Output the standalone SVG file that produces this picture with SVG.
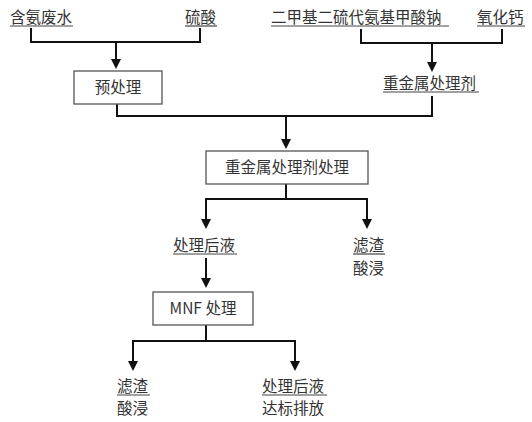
<svg xmlns="http://www.w3.org/2000/svg" width="532" height="422" viewBox="0 0 532 422">
<defs>
<marker id="arr" markerUnits="userSpaceOnUse" markerWidth="10" markerHeight="12" refX="5" refY="11" orient="auto-start-reverse" viewBox="0 0 10 12">
<path d="M0,0 L10,0 L5,11 Z" fill="#111" transform="rotate(-90 5 6) rotate(90 5 6)"/>
</marker>
<style>
.t{font-family:"Noto Sans CJK SC","Noto Sans",sans-serif;font-size:15.5px;fill:#333}
.c{text-anchor:middle}
.ln{stroke:#111;stroke-width:2;fill:none}
.u{stroke:#444;stroke-width:1.2}
.box{fill:#fff;stroke:#555;stroke-width:1.3}
</style>
</defs>
<rect width="532" height="422" fill="#fff"/>
<g id="connectors">
<path class="ln" d="M31,28 V42 H200 V28"/>
<path class="ln" d="M116,42 V60"/>
<path d="M111,59 L121,59 L116,69 Z" fill="#111"/>
<path class="ln" d="M361,29 V43 H502 V29"/>
<path class="ln" d="M432,43 V62"/>
<path d="M427,62 L437,62 L432,72 Z" fill="#111"/>
<path class="ln" d="M117,104 V116 H432 V96"/>
<path class="ln" d="M286,116 V140"/>
<path d="M281,139 L291,139 L286,149 Z" fill="#111"/>
<path class="ln" d="M286,184 V199 M206,220 V199 H367 V220"/>
<path d="M201,219 L211,219 L206,229 Z" fill="#111"/>
<path d="M362,219 L372,219 L367,229 Z" fill="#111"/>
<path class="ln" d="M206,258 V279"/>
<path d="M201,278 L211,278 L206,288 Z" fill="#111"/>
<path class="ln" d="M206,325 V341 M133,362 V341 H295 V362"/>
<path d="M128,361 L138,361 L133,371 Z" fill="#111"/>
<path d="M290,361 L300,361 L295,371 Z" fill="#111"/>
</g>
<g id="n-hanan">
<text class="t" x="10" y="23">含氨废水</text>
<line class="u" x1="10" y1="26" x2="73" y2="26"/>
</g>
<g id="n-liusuan">
<text class="t" x="185" y="23">硫酸</text>
<line class="u" x1="185" y1="26" x2="217" y2="26"/>
</g>
<g id="n-dtc">
<text class="t" x="271" y="23">二甲基二硫代氨基甲酸钠</text>
<line class="u" x1="271" y1="26" x2="449" y2="26"/>
</g>
<g id="n-cao">
<text class="t" x="477" y="23">氧化钙</text>
<line class="u" x1="477" y1="26" x2="525" y2="26"/>
</g>
<g id="n-pre">
<rect class="box" x="74" y="71" width="88" height="33"/>
<text class="t c" x="118" y="93">预处理</text>
</g>
<g id="n-agent">
<text class="t" x="383" y="89">重金属处理剂</text>
<line class="u" x1="383" y1="92" x2="479" y2="92"/>
</g>
<g id="n-hm">
<rect class="box" x="206" y="151" width="162" height="33"/>
<text class="t c" x="287" y="173">重金属处理剂处理</text>
</g>
<g id="n-liq1">
<text class="t" x="173" y="251">处理后液</text>
<line class="u" x1="173" y1="254" x2="237" y2="254"/>
</g>
<g id="n-res1">
<text class="t" x="353" y="251">滤渣</text>
<line class="u" x1="353" y1="254" x2="385" y2="254"/>
<text class="t" x="353" y="274">酸浸</text>
</g>
<g id="n-mnf">
<rect class="box" x="153" y="292" width="100" height="33"/>
<text class="t c" x="203" y="314">MNF 处理</text>
</g>
<g id="n-res2">
<text class="t" x="117" y="392">滤渣</text>
<line class="u" x1="117" y1="395" x2="150" y2="395"/>
<text class="t" x="117" y="414">酸浸</text>
</g>
<g id="n-liq2">
<text class="t" x="262" y="392">处理后液</text>
<line class="u" x1="262" y1="395" x2="327" y2="395"/>
<text class="t" x="262" y="414">达标排放</text>
</g>
</svg>
